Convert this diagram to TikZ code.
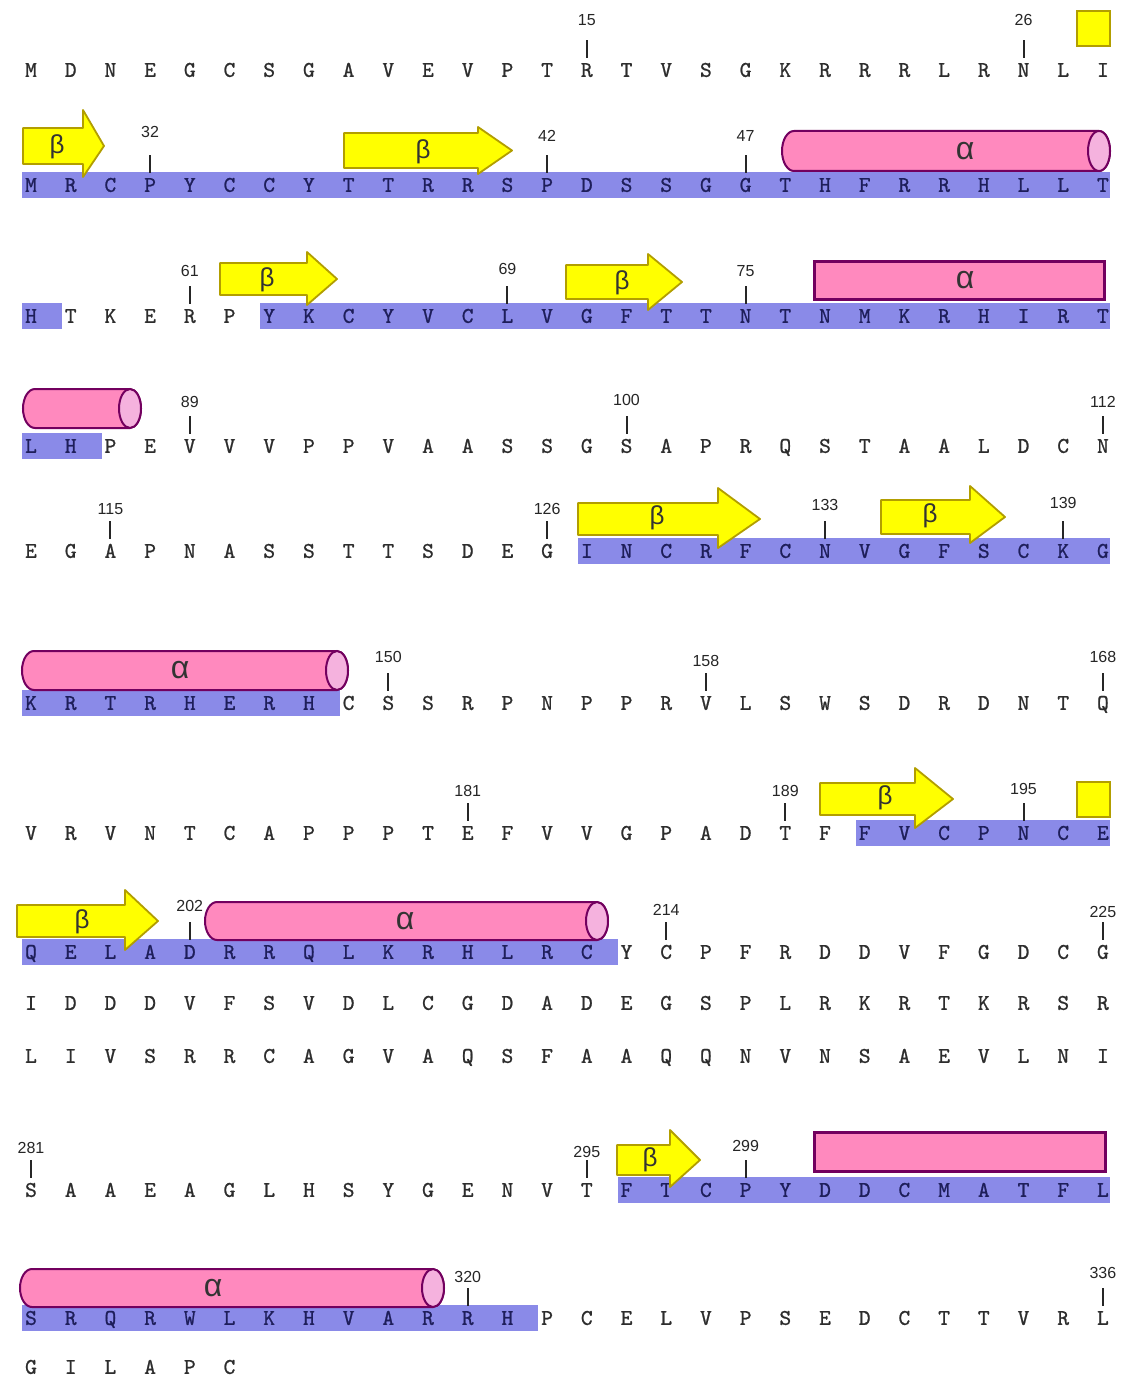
\documentclass[tikz,border=0pt]{standalone}
\usepackage{fontspec}
\newfontfamily\numfont{Liberation Sans}
\newfontfamily\greekfont{Liberation Sans}
\newfontfamily\aafont[AutoFakeBold=0.9]{lmmono10-regular.otf}
\definecolor{barblue}{RGB}{138,138,232}
\definecolor{hpink}{RGB}{255,137,190}
\definecolor{hpinkend}{RGB}{245,178,222}
\definecolor{hpurple}{RGB}{115,0,95}
\definecolor{syellow}{RGB}{255,255,0}
\definecolor{solive}{RGB}{178,158,0}
\definecolor{aatext}{RGB}{45,45,45}
\definecolor{aabar}{RGB}{30,30,90}
\tikzset{
 aa/.style={font=\aafont\bfseries\fontsize{22.5}{22.5}\selectfont, inner sep=0pt, text height=13.7pt, text depth=0pt, anchor=center},
 num/.style={font=\numfont\fontsize{16}{16}\selectfont, inner sep=0pt, text=black!85},
 greek/.style={font=\greekfont\fontsize{26}{26}\selectfont, inner sep=0pt, text=black!80},
 alphalab/.style={font=\greekfont\fontsize{32}{32}\selectfont, inner sep=0pt, text=black!80},
 tickln/.style={line width=2pt, black!85},
 betashape/.style={fill=syellow, draw=solive, line width=1.8pt, line join=round},
 cylbody/.style={fill=hpink, draw=hpurple, line width=2pt},
 cylend/.style={fill=hpinkend, draw=hpurple, line width=2pt},
 helixrect/.style={fill=hpink, draw=hpurple, line width=3pt, inner sep=0pt},
 sqbox/.style={fill=syellow, draw=solive, line width=2pt, inner sep=0pt},
}
% row of residues: #1 id, #2 y, #3-#4 first bar range, #5-#6 second bar range, #7 letters
\newcommand\aarow[7]{%
 \foreach \ch [count=\i from 0] in {#7} {%
  \pgfmathtruncatemacro\onbar{or(and(\i>=#3,\i<=#4),and(\i>=#5,\i<=#6))}%
  \ifnum\onbar=1 \def\cc{aabar}\else\def\cc{aatext}\fi
  \node[aa, text=\cc] (#1c\i) at ({31+39.7*\i},#2) {\ch};}}
% highlighted bar: #1 y, #2 first col, #3 last col
\newcommand\hlbar[3]{%
 \fill[barblue] ({31+39.7*#2-9},{#1-13}) rectangle ({min(31+39.7*#3+31,1110)},{#1+13});}
% position mark: #1 row id, #2 col, #3 label, #4 label y
\newcommand\resmark[4]{%
 \draw[tickln] ([yshift=5pt]#1c#2.north) -- ++(0,-18);
 \node[num] (lab#3) at ({31+39.7*#2},#4) {#3};}
% beta strand arrow: x0 xb xt bodytop bodybottom headtop headbottom
\newcommand\sheet[7]{%
 \filldraw[betashape] (#1,#4) -- (#2,#4) -- (#2,#6) -- (#3,{(#4+#5)/2}) -- (#2,#7) -- (#2,#5) -- (#1,#5) -- cycle;}
% helix cylinder: x0 x1 ytop ybottom
\newcommand\helixcyl[4]{%
 \pgfmathsetmacro\cym{(#3+#4)/2}\pgfmathsetmacro\cry{(#4-#3)/2}%
 \pgfmathsetmacro\cxl{#1+12}\pgfmathsetmacro\cxr{#2-11}%
 \filldraw[cylbody] (\cxr,#3) -- (\cxl,#3) arc[start angle=270,end angle=90,x radius=12,y radius=\cry] -- (\cxr,#4) arc[start angle=90,end angle=-90,x radius=11,y radius=\cry] -- cycle;
 \filldraw[cylend] (\cxr,\cym) ellipse[x radius=11,y radius=\cry];}
\begin{document}
\begin{tikzpicture}[x=1pt,y=-1pt]
\fill[white] (0,0) rectangle (1122,1380);
\useasboundingbox (0,0) rectangle (1122,1380);
% highlight bars
\hlbar{185}{0}{27}
\hlbar{316}{0}{0}
\hlbar{316}{6}{27}
\hlbar{446}{0}{1}
\hlbar{551}{14}{27}
\hlbar{703}{0}{7}
\hlbar{833}{21}{27}
\hlbar{952}{0}{14}
\hlbar{1190}{15}{27}
\hlbar{1318}{0}{12}
% residues
\aarow{r1}{70}{99}{99}{99}{99}{M,D,N,E,G,C,S,G,A,V,E,V,P,T,R,T,V,S,G,K,R,R,R,L,R,N,L,I}
\aarow{r2}{185}{0}{27}{99}{99}{M,R,C,P,Y,C,C,Y,T,T,R,R,S,P,D,S,S,G,G,T,H,F,R,R,H,L,L,T}
\aarow{r3}{316}{0}{0}{6}{27}{H,T,K,E,R,P,Y,K,C,Y,V,C,L,V,G,F,T,T,N,T,N,M,K,R,H,I,R,T}
\aarow{r4}{446}{0}{1}{99}{99}{L,H,P,E,V,V,V,P,P,V,A,A,S,S,G,S,A,P,R,Q,S,T,A,A,L,D,C,N}
\aarow{r5}{551}{14}{27}{99}{99}{E,G,A,P,N,A,S,S,T,T,S,D,E,G,I,N,C,R,F,C,N,V,G,F,S,C,K,G}
\aarow{r6}{703}{0}{7}{99}{99}{K,R,T,R,H,E,R,H,C,S,S,R,P,N,P,P,R,V,L,S,W,S,D,R,D,N,T,Q}
\aarow{r7}{833}{21}{27}{99}{99}{V,R,V,N,T,C,A,P,P,P,T,E,F,V,V,G,P,A,D,T,F,F,V,C,P,N,C,E}
\aarow{r8}{952}{0}{14}{99}{99}{Q,E,L,A,D,R,R,Q,L,K,R,H,L,R,C,Y,C,P,F,R,D,D,V,F,G,D,C,G}
\aarow{r9}{1003}{99}{99}{99}{99}{I,D,D,D,V,F,S,V,D,L,C,G,D,A,D,E,G,S,P,L,R,K,R,T,K,R,S,R}
\aarow{r10}{1056}{99}{99}{99}{99}{L,I,V,S,R,R,C,A,G,V,A,Q,S,F,A,A,Q,Q,N,V,N,S,A,E,V,L,N,I}
\aarow{r11}{1190}{15}{27}{99}{99}{S,A,A,E,A,G,L,H,S,Y,G,E,N,V,T,F,T,C,P,Y,D,D,C,M,A,T,F,L}
\aarow{r12}{1318}{0}{12}{99}{99}{S,R,Q,R,W,L,K,H,V,A,R,R,H,P,C,E,L,V,P,S,E,D,C,T,T,V,R,L}
\aarow{r13}{1367}{99}{99}{99}{99}{G,I,L,A,P,C}
% position marks
\resmark{r1}{14}{15}{20}
\resmark{r1}{25}{26}{20}
\resmark{r2}{3}{32}{132}
\resmark{r2}{13}{42}{136}
\resmark{r2}{18}{47}{136}
\resmark{r3}{4}{61}{271}
\resmark{r3}{12}{69}{269}
\resmark{r3}{18}{75}{271}
\resmark{r4}{4}{89}{402}
\resmark{r4}{15}{100}{400}
\resmark{r4}{27}{112}{402}
\resmark{r5}{2}{115}{509}
\resmark{r5}{13}{126}{509}
\resmark{r5}{20}{133}{505}
\resmark{r5}{26}{139}{503}
\resmark{r6}{9}{150}{657}
\resmark{r6}{17}{158}{661}
\resmark{r6}{27}{168}{657}
\resmark{r7}{11}{181}{791}
\resmark{r7}{19}{189}{791}
\resmark{r7}{25}{195}{789}
\resmark{r8}{4}{202}{906}
\resmark{r8}{16}{214}{910}
\resmark{r8}{27}{225}{912}
\resmark{r11}{0}{281}{1148}
\resmark{r11}{14}{295}{1152}
\resmark{r11}{18}{299}{1146}
\resmark{r12}{11}{320}{1277}
\resmark{r12}{27}{336}{1273}
% yellow squares
\node[sqbox, minimum width=33pt, minimum height=35pt] (sq1) at (1093,29) {};
\node[sqbox, minimum width=33pt, minimum height=35pt] (sq2) at (1093,799) {};
% beta strands
\sheet{23}{83}{104}{128}{164}{110}{177}
\node[greek] (b1) at (57,147) {β};
\sheet{344}{478}{512}{133}{168}{127}{174}
\node[greek] (b2) at (423,152) {β};
\sheet{220}{307}{337}{263}{295}{252}{305}
\node[greek] (b3) at (267,280) {β};
\sheet{566}{648}{682}{265}{299}{254}{310}
\node[greek] (b4) at (622,283) {β};
\sheet{578}{718}{760}{503}{535}{488}{548}
\node[greek] (b5) at (657,518) {β};
\sheet{881}{970}{1005}{500}{534}{486}{543}
\node[greek] (b6) at (930,516) {β};
\sheet{820}{915}{953}{783}{815}{768}{828}
\node[greek] (b7) at (885,798) {β};
\sheet{17}{125}{158}{905}{937}{890}{950}
\node[greek] (b8) at (82,922) {β};
\sheet{617}{670}{700}{1145}{1175}{1130}{1187}
\node[greek] (b9) at (650,1160) {β};
% alpha helices
\helixcyl{782}{1110}{131}{171}
\node[alphalab] (a1) at (965,151) {α};
\node[helixrect, minimum width=290pt, minimum height=38pt] (a2box) at (959,280) {};
\node[alphalab] (a2) at (965,280) {α};
\helixcyl{23}{141}{389}{428}
\helixcyl{22}{348}{651}{690}
\node[alphalab] (a4) at (180,670) {α};
\helixcyl{205}{608}{902}{940}
\node[alphalab] (a5) at (405,921) {α};
\node[helixrect, minimum width=291pt, minimum height=39pt] (a6box) at (960,1152) {};
\helixcyl{20}{444}{1269}{1307}
\node[alphalab] (a7) at (213,1288) {α};
\end{tikzpicture}
\end{document}
